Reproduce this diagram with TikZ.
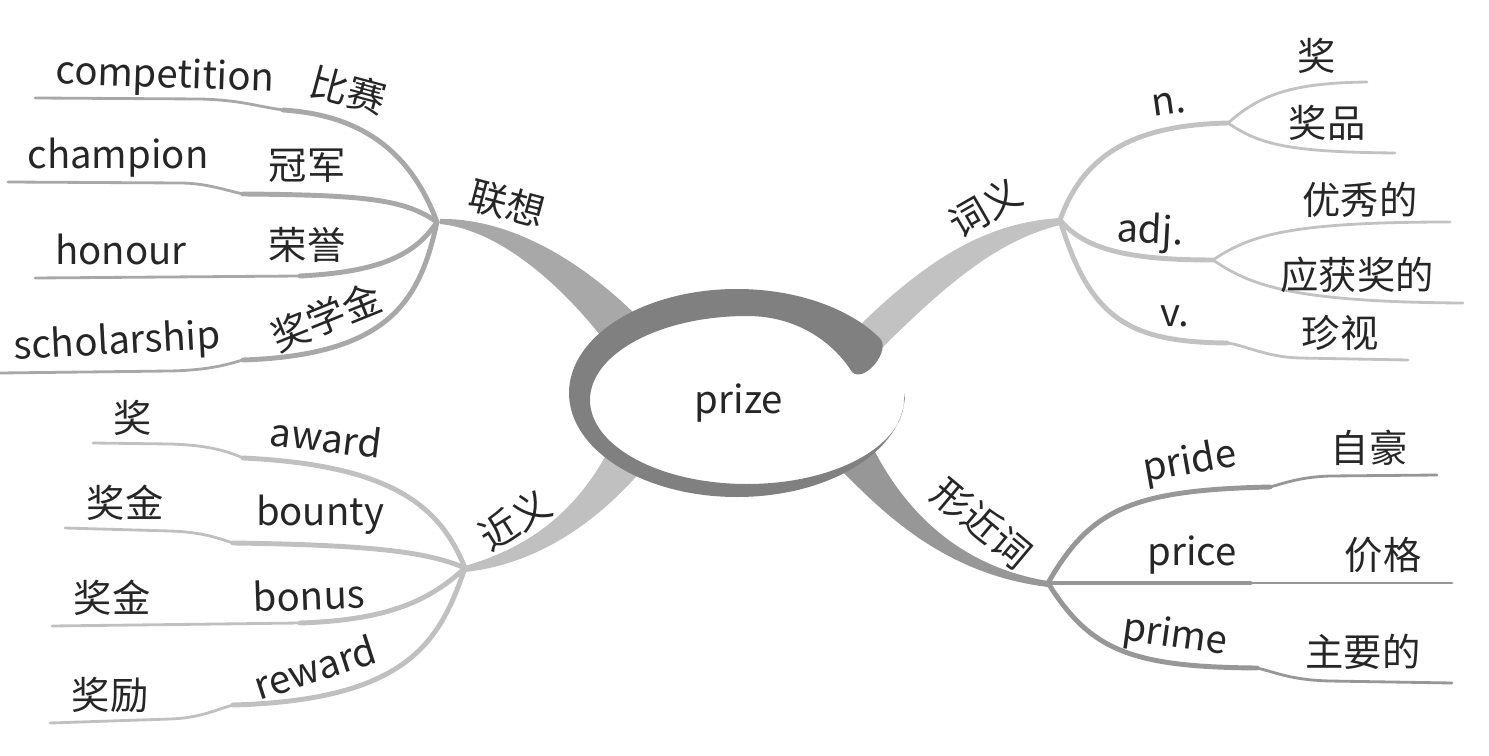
\documentclass[tikz,border=0pt]{standalone}
\usepackage{fontspec}
\setmainfont{Noto Sans CJK SC}
\definecolor{lxgray}{HTML}{A8A8A8}
\definecolor{jygray}{HTML}{C0C0C0}
\definecolor{cygray}{HTML}{C2C2C2}
\definecolor{xjgray}{HTML}{979797}
\definecolor{ringgray}{HTML}{808080}
\begin{document}
\begin{tikzpicture}[x=0.01cm,y=-0.01cm,
  every node/.style={font=\fontsize{10.9}{12}\selectfont,text=black!85,inner sep=0pt},
  thk/.style={line width=1.4pt,line cap=round},
  thn/.style={line width=0.8pt,line cap=round}]
\useasboundingbox (0,0) rectangle (1489,755);
% hubs
\coordinate (lx) at (437,222);
\coordinate (jy) at (465,568);
\coordinate (cy) at (1060,220);
\coordinate (xj) at (1048,583);
\coordinate (nn) at (1228,123);
\coordinate (adj) at (1213,260);

% trunks from the centre
\fill[lxgray] (440,219) .. controls (500,218) and (570,250) .. (637,316) -- (600,335) .. controls (560,285) and (500,230) .. (440,224) -- cycle;
\fill[jygray] (465,566) .. controls (520,550) and (570,520) .. (606,455) -- (642,470) .. controls (590,530) and (530,565) .. (465,572) -- cycle;
\fill[cygray] (1060,218) .. controls (1000,222) and (940,245) .. (855,330) -- (880,350) .. controls (950,280) and (1000,240) .. (1060,225) -- cycle;
\fill[xjgray] (874,450) .. controls (900,500) and (950,565) .. (1048,581) -- (1048,587) .. controls (950,575) and (890,520) .. (843,472) -- cycle;

% centre ring
\fill[white] (747,400) ellipse [x radius=1.57cm, y radius=0.84cm];
\fill[ringgray] (879.5,337.9) .. controls (848.8,307.5) and (794.9,289) .. (737,289)
  .. controls (644.2,289) and (569,335.6) .. (569,393)
  .. controls (569,450.4) and (644.2,497) .. (737,497)
  .. controls (829.8,497) and (905,450.4) .. (905,393)
  -- (904,400)
  .. controls (904,446.4) and (833.7,484) .. (747,484)
  .. controls (660.3,484) and (590,446.4) .. (590,400)
  .. controls (590,353.6) and (660.3,316) .. (747,316)
  .. controls (800,316) and (835,345) .. (852,372)
  .. controls (864,384) and (892,350) .. (879.5,337.9) -- cycle;
\node (prize) at (739,403) {prize};

% 联想
\coordinate (s1) at (283,110); \coordinate (e1) at (35,98);
\coordinate (s2) at (243,194); \coordinate (e2) at (8,182);
\coordinate (s3) at (300,276); \coordinate (e3) at (35,278);
\coordinate (s4) at (243,360); \coordinate (e4) at (0,373);
\draw[thk,lxgray] (lx) .. controls (410,150) and (360,115) .. (s1);
\draw[thn,lxgray] (s1) .. controls (255,106) and (240,100) .. (200,99) -- (e1);
\draw[thk,lxgray] (lx) .. controls (405,200) and (370,195) .. (s2);
\draw[thn,lxgray] (s2) .. controls (225,190) and (205,183) .. (180,183) -- (e2);
\draw[thk,lxgray] (lx) .. controls (415,255) and (380,272) .. (s3);
\draw[thn,lxgray] (s3) -- (e3);
\draw[thk,lxgray] (lx) .. controls (420,300) and (390,355) .. (s4);
\draw[thn,lxgray] (s4) .. controls (225,365) and (210,370) .. (170,371) -- (e4);
\node[rotate=-15] (lianxiang) at (507,204) {联想};
\node[rotate=-2] (comp) at (165,77) {competition};
\node[rotate=-15] (bisai) at (348,90) {比赛};
\node (champ) at (118,158) {champion};
\node (guanjun) at (307,166) {冠军};
\node (honour) at (121,249) {honour};
\node (rongyu) at (307,245) {荣誉};
\node[rotate=3] (schol) at (117,343) {scholarship};
\node[rotate=22] (jxj) at (326,317) {奖学金};

% 近义
\coordinate (t1) at (243,458); \coordinate (f1) at (93,443);
\coordinate (t2) at (233,543); \coordinate (f2) at (65,528);
\coordinate (t3) at (300,623); \coordinate (f3) at (52,626);
\coordinate (t4) at (233,705); \coordinate (f4) at (50,723);
\draw[thk,jygray] (jy) .. controls (440,505) and (390,465) .. (t1);
\draw[thn,jygray] (t1) .. controls (225,450) and (205,445) .. (170,444) -- (f1);
\draw[thk,jygray] (jy) .. controls (430,553) and (380,545) .. (t2);
\draw[thn,jygray] (t2) .. controls (215,537) and (200,532) .. (170,531) -- (f2);
\draw[thk,jygray] (jy) .. controls (430,600) and (390,620) .. (t3);
\draw[thn,jygray] (t3) -- (f3);
\draw[thk,jygray] (jy) .. controls (440,640) and (410,700) .. (t4);
\draw[thn,jygray] (t4) .. controls (215,710) and (200,718) .. (170,719) -- (f4);
\node[rotate=32] (jinyi) at (515,520) {近义};
\node (jiang1) at (133,418) {奖};
\node[rotate=-7] (award) at (326,437) {award};
\node (jiangjin1) at (125,503) {奖金};
\node (bounty) at (320,515) {bounty};
\node (jiangjin2) at (112,598) {奖金};
\node[rotate=2] (bonus) at (309,595) {bonus};
\node (jiangli) at (110,695) {奖励};
\node[rotate=18] (reward) at (315,667) {reward};

% 词义
\coordinate (u3) at (1227,343); \coordinate (g3) at (1408,360);
\draw[thk,cygray] (cy) .. controls (1085,150) and (1140,125) .. (nn);
\draw[thn,cygray] (nn) .. controls (1260,95) and (1290,83) .. (1367,82);
\draw[thn,cygray] (nn) .. controls (1260,145) and (1290,152) .. (1395,153);
\draw[thk,cygray] (cy) .. controls (1085,250) and (1130,260) .. (adj);
\draw[thn,cygray] (adj) .. controls (1250,235) and (1290,222) .. (1450,222);
\draw[thn,cygray] (adj) .. controls (1250,285) and (1290,302) .. (1463,303);
\draw[thk,cygray] (cy) .. controls (1090,320) and (1130,342) .. (u3);
\draw[thn,cygray] (u3) .. controls (1245,345) and (1265,357) .. (1300,358) -- (g3);
\node[rotate=30] (ciyi) at (985,208) {词义};
\node[rotate=8] (noun) at (1169,104) {n.};
\node (jiang2) at (1317,56) {奖};
\node (jiangpin) at (1327,123) {奖品};
\node[rotate=-3] (adjl) at (1150,233) {adj.};
\node (youxiu) at (1360,200) {优秀的};
\node (yinghuo) at (1357,275) {应获奖的};
\node (verb) at (1175,316) {v.};
\node (zhenshi) at (1340,333) {珍视};

% 形近词
\coordinate (w1) at (1270,487); \coordinate (h1) at (1437,475);
\coordinate (w2) at (1250,583); \coordinate (h2) at (1452,583);
\coordinate (w3) at (1257,668); \coordinate (h3) at (1452,683);
\draw[thk,xjgray] (xj) .. controls (1090,510) and (1130,490) .. (w1);
\draw[thn,xjgray] (w1) .. controls (1285,483) and (1300,477) .. (1330,476) -- (h1);
\draw[thk,xjgray] (xj) -- (w2);
\draw[thn,xjgray] (w2) -- (h2);
\draw[thk,xjgray] (xj) .. controls (1090,650) and (1130,667) .. (w3);
\draw[thn,xjgray] (w3) .. controls (1275,672) and (1290,680) .. (1330,681) -- (h3);
\node[rotate=-40] (xjc) at (982,523) {形近词};
\node[rotate=10] (pride) at (1190,463) {pride};
\node (zihao) at (1369,448) {自豪};
\node (price) at (1192,555) {price};
\node (jiage) at (1383,555) {价格};
\node[rotate=-8] (prime) at (1175,637) {prime};
\node (zhuyao) at (1363,652) {主要的};
\end{tikzpicture}
\end{document}
